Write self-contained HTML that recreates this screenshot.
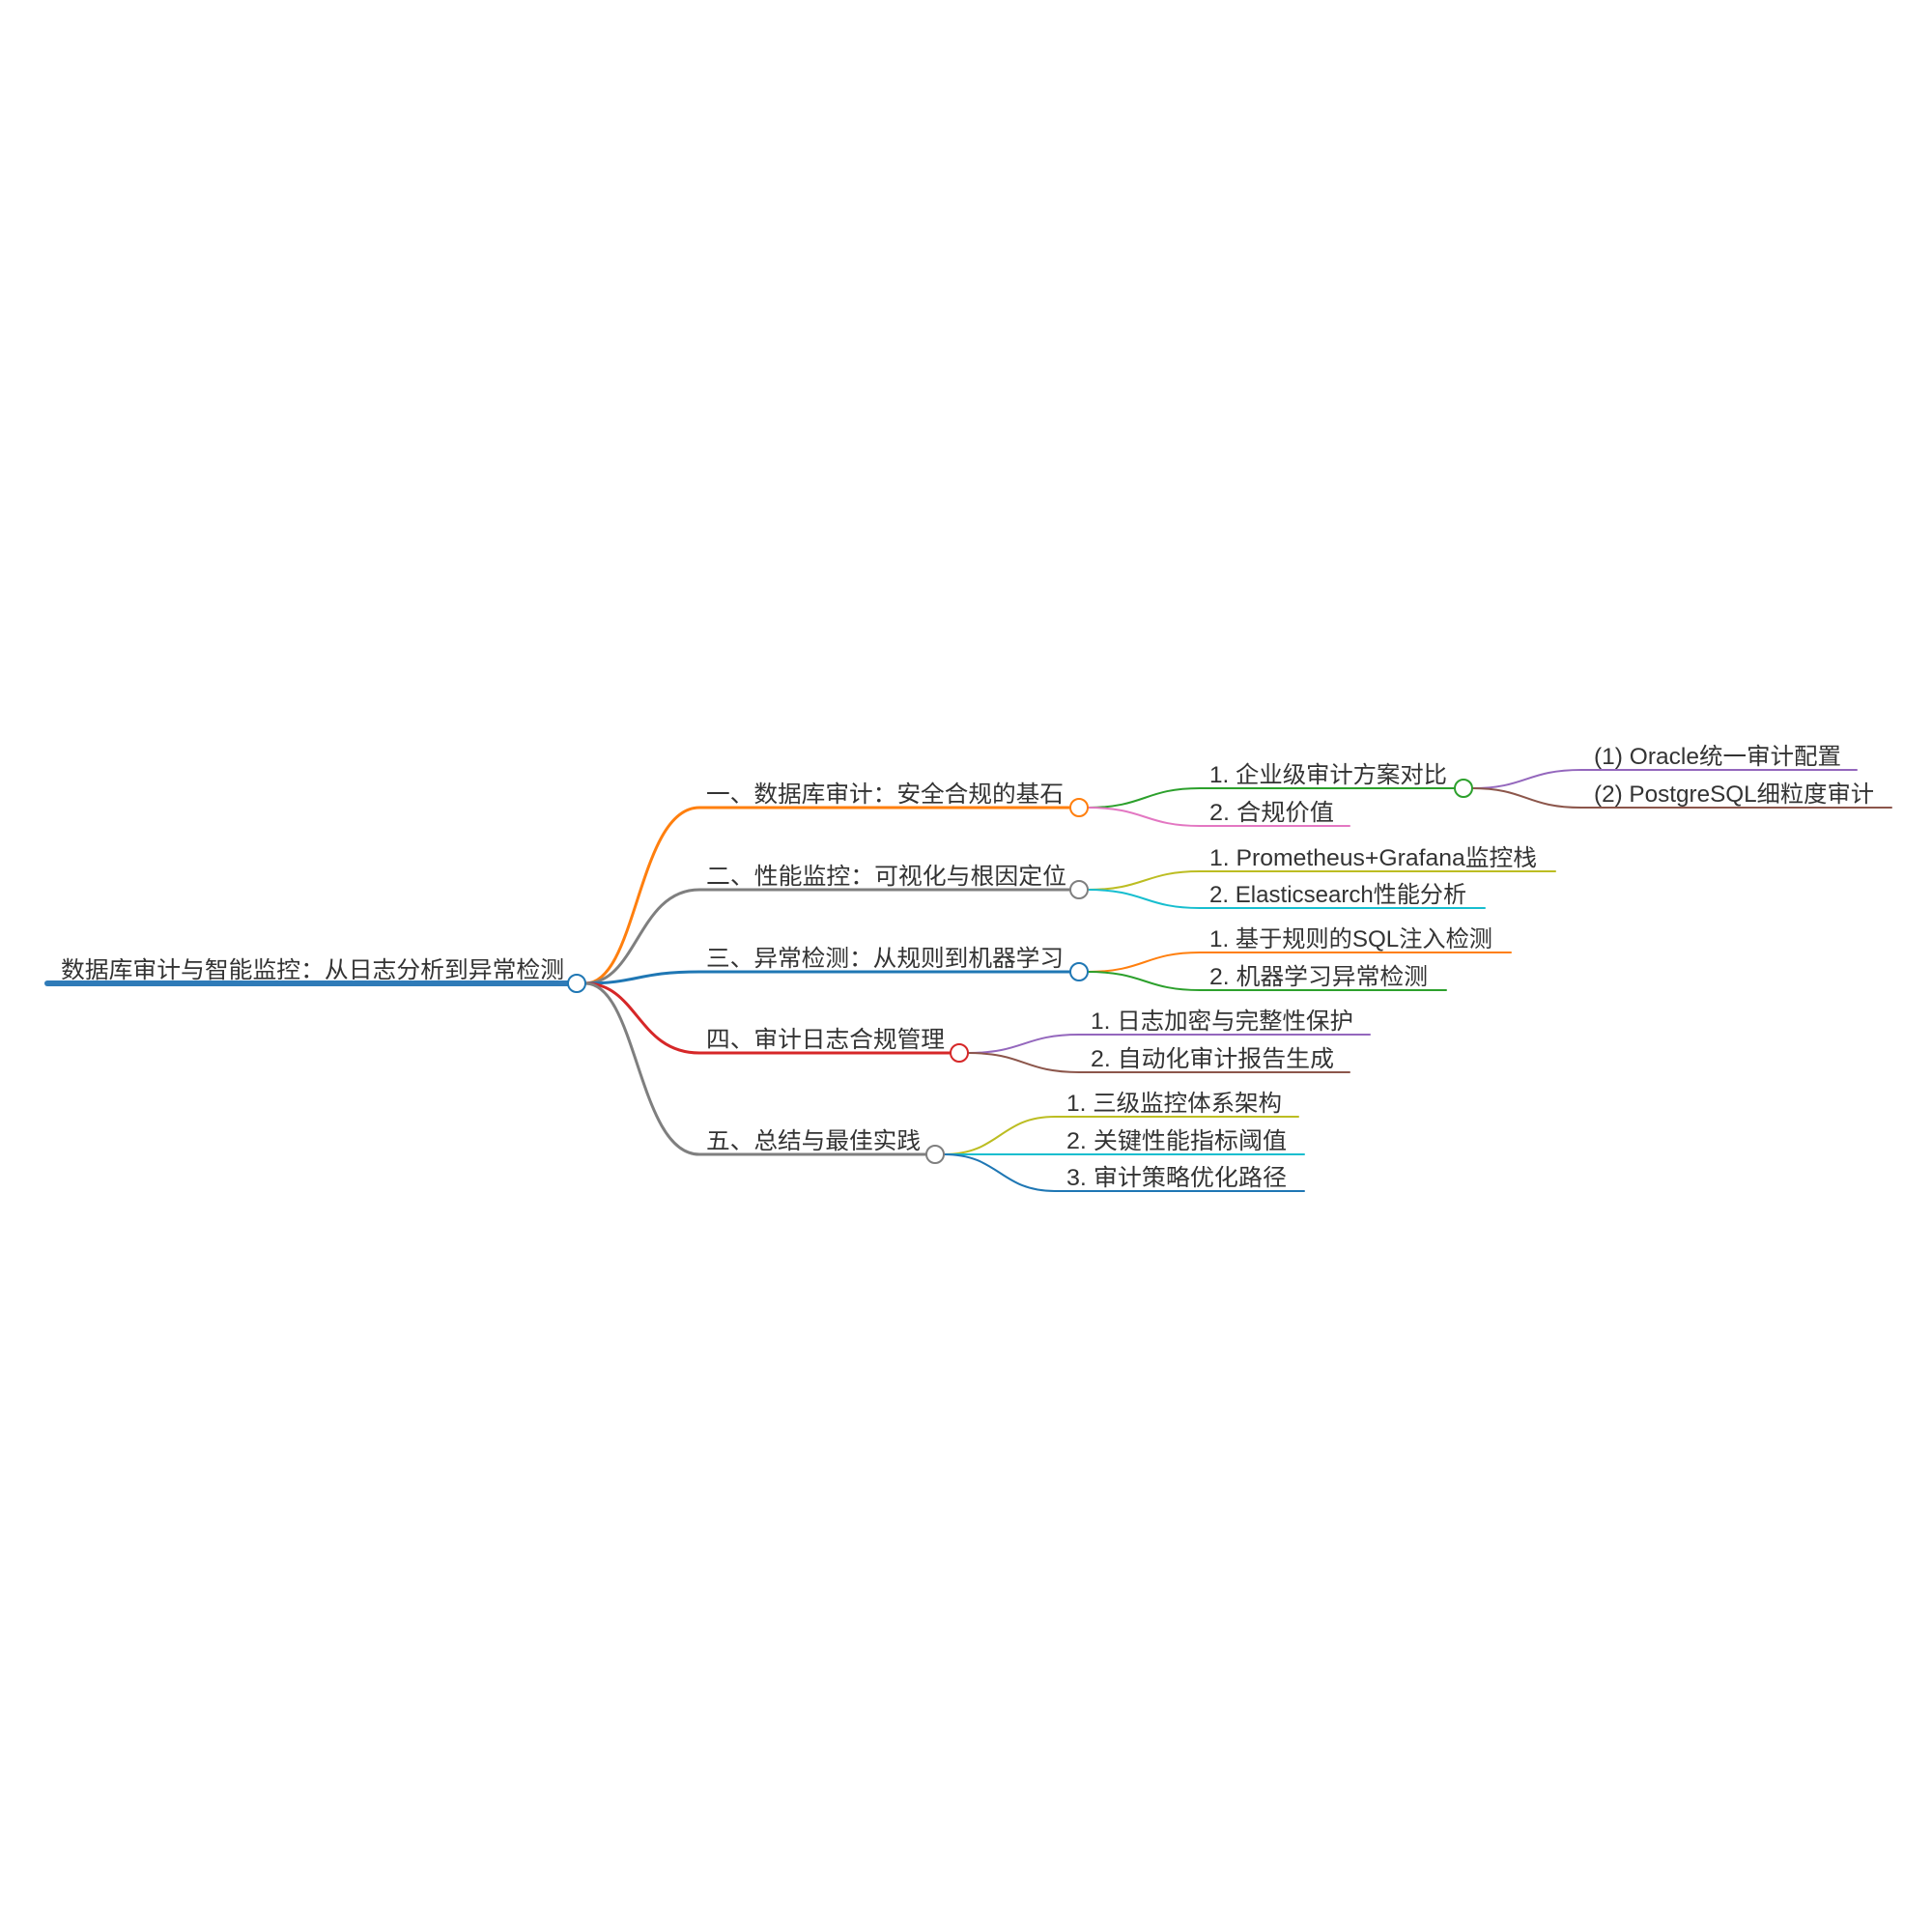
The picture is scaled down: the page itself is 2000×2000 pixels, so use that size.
<!DOCTYPE html>
<html><head><meta charset="utf-8"><style>html,body{margin:0;padding:0;background:#fff}svg{display:block}text{font-family:"Liberation Sans","Noto Sans CJK SC",sans-serif;font-size:24px;fill:#333}</style></head><body>
<svg width="2000" height="2000" viewBox="0 0 2000 2000" xmlns="http://www.w3.org/2000/svg">
<g fill="none" stroke-linecap="round">
<path d="M49 1018 H590" stroke="#2f7bb8" stroke-width="6"/>
<path d="M606 1018 C660 1018,660 836,724 836 H1108" stroke="#ff7f0e" stroke-width="3"/>
<path d="M606 1018 C660 1018,660 921,724 921 H1108" stroke="#7f7f7f" stroke-width="3"/>
<path d="M606 1018 C660 1018,660 1006,724 1006 H1108" stroke="#1f77b4" stroke-width="3"/>
<path d="M606 1018 C660 1018,660 1090,724 1090 H984" stroke="#d62728" stroke-width="3"/>
<path d="M606 1018 C660 1018,660 1195,724 1195 H959" stroke="#7f7f7f" stroke-width="3"/>
<path d="M1126 836 C1185 836,1185 816,1242 816 H1506" stroke="#2ca02c" stroke-width="2"/>
<path d="M1126 836 C1185 836,1185 855,1242 855 H1397" stroke="#e377c2" stroke-width="2"/>
<path d="M1126 921 C1185 921,1185 902,1242 902 H1610" stroke="#bcbd22" stroke-width="2"/>
<path d="M1126 921 C1185 921,1185 940,1242 940 H1537" stroke="#17becf" stroke-width="2"/>
<path d="M1126 1006 C1185 1006,1185 986,1242 986 H1564" stroke="#ff7f0e" stroke-width="2"/>
<path d="M1126 1006 C1185 1006,1185 1025,1242 1025 H1497" stroke="#2ca02c" stroke-width="2"/>
<path d="M1002 1090 C1060 1090,1060 1071,1117 1071 H1418" stroke="#9467bd" stroke-width="2"/>
<path d="M1002 1090 C1060 1090,1060 1110,1117 1110 H1397" stroke="#8c564b" stroke-width="2"/>
<path d="M977 1195 C1035 1195,1035 1156,1092 1156 H1344" stroke="#bcbd22" stroke-width="2"/>
<path d="M977 1195 H1350" stroke="#17becf" stroke-width="2"/>
<path d="M977 1195 C1035 1195,1035 1233,1092 1233 H1350" stroke="#1f77b4" stroke-width="2"/>
<path d="M1524 816 C1580 816,1580 797,1637 797 H1922" stroke="#9467bd" stroke-width="2"/>
<path d="M1524 816 C1580 816,1580 836,1637 836 H1958" stroke="#8c564b" stroke-width="2"/>
</g>
<g fill="#fff" stroke-width="2">
<circle cx="597" cy="1018" r="9" stroke="#1f77b4"/>
<circle cx="1117" cy="836" r="9" stroke="#ff7f0e"/>
<circle cx="1117" cy="921" r="9" stroke="#7f7f7f"/>
<circle cx="1117" cy="1006" r="9" stroke="#1f77b4"/>
<circle cx="993" cy="1090" r="9" stroke="#d62728"/>
<circle cx="968" cy="1195" r="9" stroke="#7f7f7f"/>
<circle cx="1515" cy="816" r="9" stroke="#2ca02c"/>
</g>
<text x="63" y="1012" textLength="521" lengthAdjust="spacingAndGlyphs">数据库审计与智能监控：从日志分析到异常检测</text>
<text x="731" y="830" textLength="370" lengthAdjust="spacingAndGlyphs">一、数据库审计：安全合规的基石</text>
<text x="731" y="915" textLength="373" lengthAdjust="spacingAndGlyphs">二、性能监控：可视化与根因定位</text>
<text x="731" y="1000" textLength="370" lengthAdjust="spacingAndGlyphs">三、异常检测：从规则到机器学习</text>
<text x="731" y="1084" textLength="247" lengthAdjust="spacingAndGlyphs">四、审计日志合规管理</text>
<text x="731" y="1189" textLength="222" lengthAdjust="spacingAndGlyphs">五、总结与最佳实践</text>
<text x="1252" y="810" textLength="246" lengthAdjust="spacingAndGlyphs">1. 企业级审计方案对比</text>
<text x="1252" y="849" textLength="129" lengthAdjust="spacingAndGlyphs">2. 合规价值</text>
<text x="1252" y="896" textLength="339" lengthAdjust="spacingAndGlyphs">1. Prometheus+Grafana监控栈</text>
<text x="1252" y="934" textLength="266" lengthAdjust="spacingAndGlyphs">2. Elasticsearch性能分析</text>
<text x="1252" y="980" textLength="293" lengthAdjust="spacingAndGlyphs">1. 基于规则的SQL注入检测</text>
<text x="1252" y="1019" textLength="226" lengthAdjust="spacingAndGlyphs">2. 机器学习异常检测</text>
<text x="1129" y="1065" textLength="272" lengthAdjust="spacingAndGlyphs">1. 日志加密与完整性保护</text>
<text x="1129" y="1104" textLength="252" lengthAdjust="spacingAndGlyphs">2. 自动化审计报告生成</text>
<text x="1104" y="1150" textLength="223" lengthAdjust="spacingAndGlyphs">1. 三级监控体系架构</text>
<text x="1104" y="1189" textLength="228" lengthAdjust="spacingAndGlyphs">2. 关键性能指标阈值</text>
<text x="1104" y="1227" textLength="228" lengthAdjust="spacingAndGlyphs">3. 审计策略优化路径</text>
<text x="1650" y="791" textLength="256" lengthAdjust="spacingAndGlyphs">(1) Oracle统一审计配置</text>
<text x="1650" y="830" textLength="290" lengthAdjust="spacingAndGlyphs">(2) PostgreSQL细粒度审计</text>
</svg>
</body></html>
